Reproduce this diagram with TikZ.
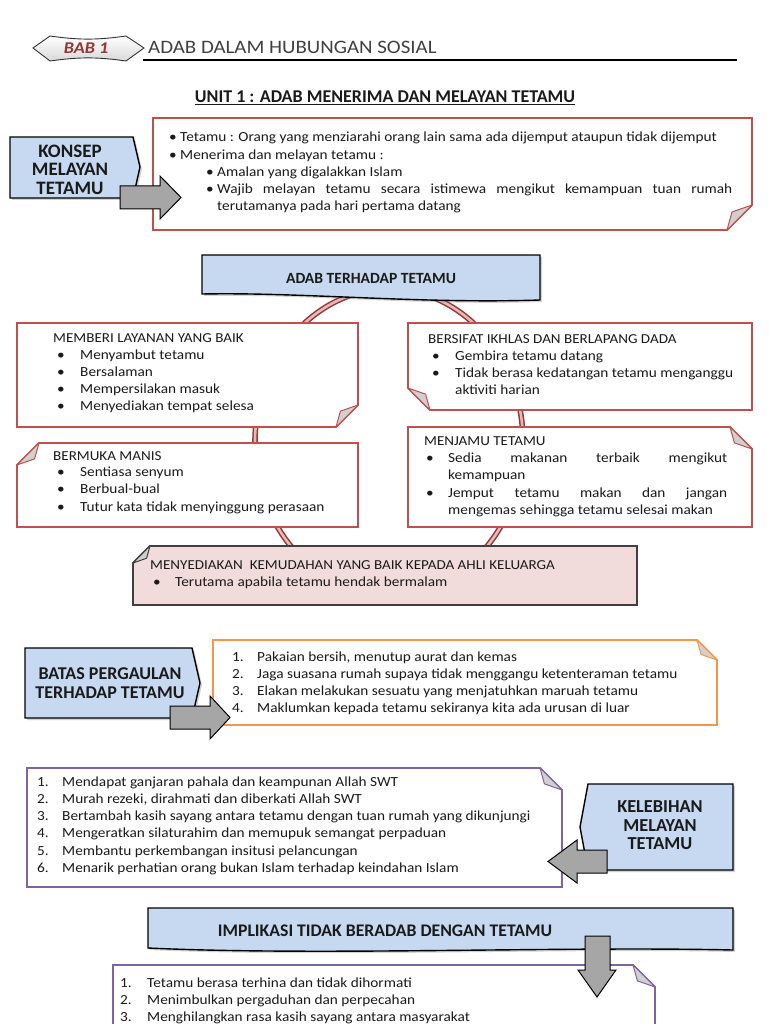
\documentclass[tikz,border=0pt]{standalone}
\usepackage{fontspec}
\setmainfont{Carlito}[FakeStretch=1.1]
\newfontfamily\hfont{Carlito}
\usetikzlibrary{shadows}
\definecolor{bluefill}{HTML}{C6D9F1}
\definecolor{redb}{HTML}{C0504D}
\definecolor{ringc}{HTML}{953735}
\definecolor{ringin}{HTML}{E6B9B8}
\definecolor{arrowg}{HTML}{A6A6A6}
\definecolor{foldg}{HTML}{D0D0D0}
\definecolor{pinkf}{HTML}{F2DCDB}
\definecolor{orangeb}{HTML}{F79646}
\definecolor{purpleb}{HTML}{8064A2}
\definecolor{babred}{HTML}{943634}
\definecolor{txt}{HTML}{1A1A1A}
\tikzset{
  body/.style={anchor=base west, inner sep=0pt, font=\fontsize{13.9}{16}\selectfont, text=txt},
  ttl/.style={anchor=base west, inner sep=0pt, font=\fontsize{13.7}{16}\selectfont, text=txt},
  hdr/.style={inner sep=0pt, font=\hfont\fontsize{#1}{18}\selectfont\bfseries, text=txt},
  hdr/.default=17,
  bluebox/.style={fill=bluefill, draw=black, line width=1.4pt, drop shadow={opacity=0.35, shadow xshift=2pt, shadow yshift=-2pt}},
  garrow/.style={fill=arrowg, draw=black, line width=1pt, line join=miter},
  foldtri/.style={fill=foldg, draw=#1, line width=1pt, line join=round},
  panel/.style={line width=1.8pt, line join=miter},
}
% folded-corner boxes: x1 y1 x2 y2 border fill foldsize
\newcommand{\fbBR}[7]{%
 \draw[panel, draw=#5, fill=#6] (#1,#2) -- (#3,#2) -- ({#3},{#4-#7}) -- ({#3-#7},{#4}) -- (#1,#4) -- cycle;
 \draw[foldtri=#5] ({#3},{#4-#7}) -- ({#3-#7},{#4}) -- ({#3-0.8*#7},{#4-0.72*#7}) -- cycle;}
\newcommand{\fbBL}[7]{%
 \draw[panel, draw=#5, fill=#6] (#1,#2) -- (#3,#2) -- (#3,#4) -- ({#1+#7},{#4}) -- ({#1},{#4-#7}) -- cycle;
 \draw[foldtri=#5] ({#1},{#4-#7}) -- ({#1+#7},{#4}) -- ({#1+0.8*#7},{#4-0.72*#7}) -- cycle;}
\newcommand{\fbTL}[7]{%
 \draw[panel, draw=#5, fill=#6] ({#1+#7},{#2}) -- (#3,#2) -- (#3,#4) -- (#1,#4) -- ({#1},{#2+#7}) -- cycle;
 \draw[foldtri=#5] ({#1},{#2+#7}) -- ({#1+#7},{#2}) -- ({#1+0.8*#7},{#2+0.72*#7}) -- cycle;}
\newcommand{\fbTR}[7]{%
 \draw[panel, draw=#5, fill=#6] (#1,#2) -- ({#3-#7},{#2}) -- ({#3},{#2+#7}) -- (#3,#4) -- (#1,#4) -- cycle;
 \draw[foldtri=#5] ({#3-#7},{#2}) -- ({#3},{#2+#7}) -- ({#3-0.8*#7},{#2+0.72*#7}) -- cycle;}
\begin{document}
\begin{tikzpicture}[x=1pt,y=-1pt]
\useasboundingbox[fill=white] (0,0) rectangle (768,1024);

% ---------- header ----------
\draw[line width=2pt, drop shadow={opacity=0.3, shadow xshift=1pt, shadow yshift=-2pt}] (143,60) -- (737,60);
\draw[line width=0.9pt, draw=black!80, top color=white, bottom color=black!15]
  (33,48) -- (50,36) to[bend right=8] (126,36) -- (144,48)
  -- (126,61) to[bend right=8] (50,61) -- cycle;
\node[inner sep=0pt, font=\fontsize{16.5}{18}\selectfont\bfseries\itshape, text=babred] (bab) at (86,48) {BAB 1};
\node[anchor=base west, inner sep=0pt, font=\fontsize{19}{20}\selectfont, text=black!75] (chap) at (148,54) {ADAB DALAM HUBUNGAN SOSIAL};
\node[hdr=18] (unit) at (385,98) {\underline{UNIT 1 : ADAB MENERIMA DAN MELAYAN TETAMU}};

% ---------- konsep ----------
\fbBR{153}{118}{752}{230}{redb}{white}{25}
\draw[bluebox] (10,137) -- (133,137) -- (140,167) -- (133,198) -- (10,198) -- cycle;
\node[hdr=19] (k1) at (70,151) {KONSEP};
\node[hdr=19] (k2) at (70,169) {MELAYAN};
\node[hdr=19] (k3) at (70,188) {TETAMU};
\node[body] (kb1) at (169,142) {•};
\node[body] (kt1) at (180,142) {Tetamu : Orang yang menziarahi orang lain sama ada dijemput ataupun tidak dijemput};
\node[body] (kb2) at (169,160) {•};
\node[body] (kt2) at (180,160) {Menerima dan melayan tetamu :};
\node[body] (kb3) at (206,177) {•};
\node[body] (kt3) at (217,177) {Amalan yang digalakkan Islam};
\node[body] (kb4) at (206,194) {•};
\node[body] (kt4) at (217,194) {\makebox[515pt][s]{Wajib melayan tetamu secara istimewa mengikut kemampuan tuan rumah}};
\node[body] (kt5) at (217,211) {terutamanya pada hari pertama datang};

% ---------- adab terhadap tetamu ----------
\draw[ringc, line width=1.5pt, double=ringin, double distance=2.6pt] (389,442) ellipse [x radius=134, y radius=153];
\draw[bluebox] (202,255) -- (540,255) -- (540,300) .. controls (420,304) and (300,292) .. (202,294) -- cycle;
\node[hdr=15.6] (adab) at (371,278) {ADAB TERHADAP TETAMU};

\fbBR{17}{323}{358}{427}{redb}{white}{22}
\node[ttl] (m0) at (53,342) {MEMBERI LAYANAN YANG BAIK};
\node[body] (mb1) at (57,359) {•}; \node[body] (m1) at (80,359) {Menyambut tetamu};
\node[body] (mb2) at (57,376) {•}; \node[body] (m2) at (80,376) {Bersalaman};
\node[body] (mb3) at (57,393) {•}; \node[body] (m3) at (80,393) {Mempersilakan masuk};
\node[body] (mb4) at (57,410) {•}; \node[body] (m4) at (80,410) {Menyediakan tempat selesa};

\fbBL{408}{323}{752}{410}{redb}{white}{22}
\node[ttl] (b0) at (428,343) {BERSIFAT IKHLAS DAN BERLAPANG DADA};
\node[body] (bb1) at (432,360) {•}; \node[body] (b1) at (455,360) {Gembira tetamu datang};
\node[body] (bb2) at (432,377) {•}; \node[body] (b2) at (455,377) {Tidak berasa kedatangan tetamu menganggu};
\node[body] (b3) at (455,394) {aktiviti harian};

\fbTL{17}{443}{358}{527}{redb}{white}{22}
\node[ttl] (s0) at (53,460) {BERMUKA MANIS};
\node[body] (sb1) at (57,476) {•}; \node[body] (s1) at (80,476) {Sentiasa senyum};
\node[body] (sb2) at (57,493) {•}; \node[body] (s2) at (80,493) {Berbual-bual};
\node[body] (sb3) at (57,511) {•}; \node[body] (s3) at (80,511) {Tutur kata tidak menyinggung perasaan};

\fbTR{408}{427}{752}{527}{redb}{white}{22}
\node[ttl] (j0) at (424,445) {MENJAMU TETAMU};
\node[body] (jb1) at (426,462) {•}; \node[body] (j1) at (448,462) {\makebox[279pt][s]{Sedia makanan terbaik mengikut}};
\node[body] (j2) at (448,479) {kemampuan};
\node[body] (jb3) at (426,497) {•}; \node[body] (j3) at (448,497) {\makebox[279pt][s]{Jemput tetamu makan dan jangan}};
\node[body] (j4) at (448,514) {mengemas sehingga tetamu selesai makan};

\fbTL{133}{546}{637}{605}{black!75}{pinkf}{17}
\node[ttl] (p0) at (150,569) {MENYEDIAKAN\ \ KEMUDAHAN YANG BAIK KEPADA AHLI KELUARGA};
\node[body] (pb1) at (153,586) {•}; \node[body] (p1) at (175,586) {Terutama apabila tetamu hendak bermalam};

% ---------- batas ----------
\fbTR{213}{640}{717}{725}{orangeb}{white}{20}
\draw[bluebox] (25,648) -- (192,648) -- (200,683) -- (192,718) -- (25,718) -- cycle;
\node[hdr=18] (t1) at (110,674) {BATAS PERGAULAN};
\node[hdr=18] (t2) at (110,693) {TERHADAP TETAMU};
\node[body] (tn1) at (232,661) {1.}; \node[body] (tt1) at (257,661) {Pakaian bersih, menutup aurat dan kemas};
\node[body] (tn2) at (232,678) {2.}; \node[body] (tt2) at (257,678) {Jaga suasana rumah supaya tidak menggangu ketenteraman tetamu};
\node[body] (tn3) at (232,695) {3.}; \node[body] (tt3) at (257,695) {Elakan melakukan sesuatu yang menjatuhkan maruah tetamu};
\node[body] (tn4) at (232,712) {4.}; \node[body] (tt4) at (257,712) {Maklumkan kepada tetamu sekiranya kita ada urusan di luar};

% ---------- kelebihan ----------
\fbTR{27}{768}{562}{887}{purpleb}{white}{22}
\draw[bluebox] (588,784) -- (733,784) -- (733,870) -- (588,870) -- (580,827) -- cycle;
\node[hdr=18.3] (e1) at (660,807) {KELEBIHAN};
\node[hdr=18.3] (e2) at (660,826) {MELAYAN};
\node[hdr=18.3] (e3) at (660,844) {TETAMU};
\node[body] (en1) at (37,786) {1.}; \node[body] (et1) at (62,786) {Mendapat ganjaran pahala dan keampunan Allah SWT};
\node[body] (en2) at (37,803) {2.}; \node[body] (et2) at (62,803) {Murah rezeki, dirahmati dan diberkati Allah SWT};
\node[body] (en3) at (37,820) {3.}; \node[body] (et3) at (62,820) {Bertambah kasih sayang antara tetamu dengan tuan rumah yang dikunjungi};
\node[body] (en4) at (37,837) {4.}; \node[body] (et4) at (62,837) {Mengeratkan silaturahim dan memupuk semangat perpaduan};
\node[body] (en5) at (37,855) {5.}; \node[body] (et5) at (62,855) {Membantu perkembangan insitusi pelancungan};
\node[body] (en6) at (37,872) {6.}; \node[body] (et6) at (62,872) {Menarik perhatian orang bukan Islam terhadap keindahan Islam};

% ---------- implikasi ----------
\fbTR{113}{965}{655}{1040}{purpleb}{white}{22}
\draw[bluebox] (148,908) -- (733,908) -- (733,950) .. controls (560,946) and (320,956) .. (148,948) -- cycle;
\node[hdr=17.7] (im) at (385,931) {IMPLIKASI TIDAK BERADAB DENGAN TETAMU};
\node[body] (in1) at (120,987) {1.}; \node[body] (it1) at (147,987) {Tetamu berasa terhina dan tidak dihormati};
\node[body] (in2) at (120,1004) {2.}; \node[body] (it2) at (147,1004) {Menimbulkan pergaduhan dan perpecahan};
\node[body] (in3) at (120,1021) {3.}; \node[body] (it3) at (147,1021) {Menghilangkan rasa kasih sayang antara masyarakat};

% ---------- block arrows ----------
\draw[garrow] (120,186) -- (160,186) -- (160,176) -- (181,197.5) -- (160,219) -- (160,209) -- (120,209) -- cycle;
\draw[garrow] (170,706) -- (210,706) -- (210,696) -- (230,717.5) -- (210,739) -- (210,729) -- (170,729) -- cycle;
\draw[garrow] (607,850) -- (577,850) -- (577,840) -- (548,861.5) -- (577,883) -- (577,873) -- (607,873) -- cycle;
\draw[garrow] (585,936) -- (610,936) -- (610,970) -- (616,970) -- (597,997) -- (578,970) -- (585,970) -- cycle;
\end{tikzpicture}
\end{document}
